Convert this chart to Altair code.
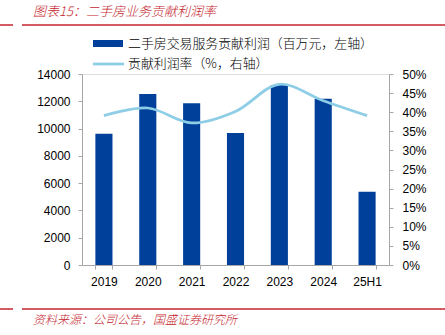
import altair as alt
import pandas as pd

years = ["2019", "2020", "2021", "2022", "2023", "2024", "25H1"]
profit = [9620, 12540, 11860, 9680, 13200, 12180, 5370]
rate = [0.391, 0.411, 0.372, 0.402, 0.473, 0.430, 0.391]

title_text = "图表15：二手房业务贡献利润率"
source_text = "资料来源：公司公告，国盛证券研究所"
legend_bar = "二手房交易服务贡献利润（百万元，左轴）"
legend_line = "贡献利润率（%，右轴）"

left_ticks = [0, 2000, 4000, 6000, 8000, 10000, 12000, 14000]
right_ticks = [0, 0.05, 0.1, 0.15, 0.2, 0.25, 0.3, 0.35, 0.4, 0.45, 0.5]

df = pd.DataFrame({"year": years, "profit": profit, "rate": rate})
one = pd.DataFrame({"k": [0]})

BAR = "#00409A"
LINE = "#8ECDE6"
RED = "#C4262E"
AX = "#A6A6A6"
FONT = "Liberation Sans"
CJK = "Noto Sans CJK SC"

xenc = alt.X(
    "year:N", sort=years, title=None,
    scale=alt.Scale(paddingInner=0.61, paddingOuter=0.305),
    axis=alt.Axis(labelAngle=0, domainColor=AX, tickColor=AX, tickSize=4,
                  tickBand="extent", labelPadding=7, labelFont=FONT,
                  labelFontSize=12, labelColor="#000"),
)

bars = alt.Chart(df).mark_bar(color=BAR).encode(
    x=xenc,
    y=alt.Y("profit:Q", title=None,
            scale=alt.Scale(domain=[0, 14000], nice=False),
            axis=alt.Axis(values=left_ticks, format="d", grid=False,
                          domainColor=AX, tickColor=AX, tickSize=4,
                          labelPadding=8, labelFont=FONT, labelFontSize=12,
                          labelColor="#000")),
)

line = alt.Chart(df).mark_line(color=LINE, strokeWidth=2.75,
                               interpolate="catmull-rom").encode(
    x=xenc,
    y=alt.Y("rate:Q", title=None,
            scale=alt.Scale(domain=[0, 0.5], nice=False),
            axis=alt.Axis(orient="right", values=right_ticks, format=".0%",
                          grid=False, domainColor=AX, tickColor=AX, tickSize=4,
                          labelPadding=9, labelFont=FONT, labelFontSize=12,
                          labelColor="#000")),
)

# plot origin at (82, 74)
def txt(s, x, y, size, color, font=CJK, italic=False, weight="normal"):
    kw = dict(align="left", baseline="middle", fontSize=size, color=color,
              font=font, fontWeight=weight)
    if italic:
        kw["fontStyle"] = "italic"
    return alt.Chart(one).mark_text(**kw).encode(
        x=alt.value(x), y=alt.value(y), text=alt.value(s))

def rule(x1, x2, y, color, w):
    return alt.Chart(one).mark_rule(color=color, strokeWidth=w).encode(
        x=alt.value(x1), x2=alt.value(x2), y=alt.value(y))

title = txt(title_text, 33 - 82, 12 - 74, 13, RED, italic=True, weight=300)
source = txt(source_text, 33 - 82, 320 - 74, 12, RED, italic=True, weight=300)
top1 = rule(-82, 13 - 82, 25 - 74, RED, 1.5)
top2 = rule(22 - 82, 445 - 82, 25 - 74, RED, 1.5)
bot1 = rule(-82, 13 - 82, 309 - 74, RED, 1.5)
bot2 = rule(22 - 82, 445 - 82, 309 - 74, RED, 1.5)

leg_rect = alt.Chart(one).mark_rect(color=BAR).encode(
    x=alt.value(93 - 82), x2=alt.value(123 - 82),
    y=alt.value(40 - 74), y2=alt.value(47 - 74))
leg_line = rule(93 - 82, 124 - 82, 64 - 74, LINE, 2.75)
leg_t1 = txt(legend_bar, 128 - 82, 44 - 74, 12.9, "#000", weight=300)
leg_t2 = txt(legend_line, 128 - 82, 64 - 74, 12.9, "#000", weight=300)

chart = alt.layer(
    bars, line, title, source, top1, top2, bot1, bot2,
    leg_rect, leg_line, leg_t1, leg_t2
).resolve_scale(y="independent").properties(
    width=307, height=191,
    autosize=alt.AutoSizeParams(type="none"),
    padding={"left": 82, "top": 74, "right": 56, "bottom": 70},
).configure_view(stroke=None).configure(background="white")

chart.save("out.html", embed_options={"renderer": "svg", "actions": False})
